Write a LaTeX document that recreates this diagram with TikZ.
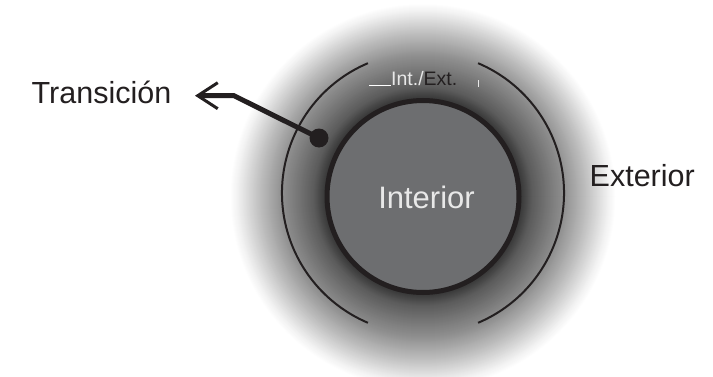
\documentclass[tikz,border=0pt]{standalone}
\usepackage{fontspec}
\setmainfont{Liberation Sans}
\usetikzlibrary{arrows.meta}
\definecolor{ink}{HTML}{231F20}
\definecolor{core}{HTML}{6D6E70}
\definecolor{soft}{HTML}{E8E8E8}
\begin{document}
\begin{tikzpicture}[x=1pt,y=1pt,
  lbl/.style={anchor=base west, inner sep=0, text=ink, font=\fontsize{30.5}{36}\selectfont},
  arcline/.style={draw=ink, line width=2pt},
  ]
\useasboundingbox (0,0) rectangle (713,376);
\clip (0,0) rectangle (713,376);
\fill[white] (0,0) rectangle (713,376);
\coordinate (c) at (423,179.5);
\coordinate (ca) at (423,183);
\foreach \r in {193,192,...,96} {
  \pgfmathsetmacro\g{\r<100 ? 0.20+(\r-96)*0.04/4 : (\r<110 ? 0.24+(\r-100)*0.12/10 : (\r<125 ? 0.36+(\r-110)*0.10/15 : (\r<141 ? 0.46+(\r-125)*0.10/16 : (\r<165 ? 0.56+(\r-141)*0.20/24 : (\r<185 ? 0.76+(\r-165)*0.18/20 : 0.94+(\r-185)*0.06/8)))))}
  \definecolor{ringcol}{gray}{\g}
  \fill[ringcol] (c) circle[radius=\r];
}
\draw[arcline] ([shift={(113:141)}]ca) arc[start angle=113, end angle=247, radius=141];
\draw[arcline] ([shift={(-67:141)}]ca) arc[start angle=-67, end angle=67, radius=141];
\node[circle, fill=core, draw=ink, line width=5pt, minimum size=192pt, inner sep=0] (interior) at (c) {};
\node[anchor=base, inner sep=0, text=soft, font=\fontsize{31}{36}\selectfont] (intlabel) at (426.5,168) {Interior};
\node[lbl] (trans) at (31.5,273) {Transición};
\node[lbl] (ext) at (589.5,190) {Exterior};
\node[anchor=base west, inner sep=0, font=\fontsize{19.5}{24}\selectfont] (ie) at (391,290.3) {\textcolor{soft}{Int./}\textcolor{ink}{Ext.}};
\coordinate (ul) at (369,290.3);
\draw[white, line width=1pt] (ul) -- (ie.base west);
\coordinate (v1) at (478,296);
\coordinate (v2) at (478,289);
\draw[soft, line width=0.8pt] (v1) -- (v2);
\node[circle, fill=ink, minimum size=19pt, inner sep=0] (dot) at (319,238) {};
\coordinate (bend) at (234,280.3);
\coordinate (tip) at (195,280.3);
\draw[ink, line width=5pt, -{Straight Barb[length=20pt,width=26pt,line width=3pt]}] (dot.center) -- (bend) -- (tip);
\end{tikzpicture}
\end{document}
